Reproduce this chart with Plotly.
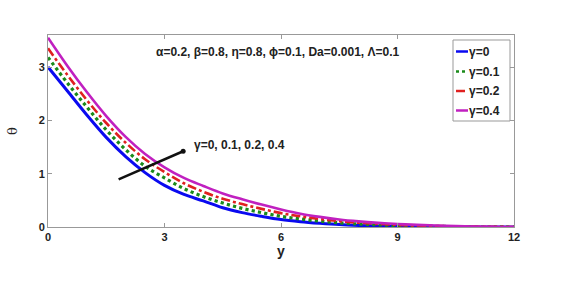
import plotly.graph_objects as go

y_vals = [0, 0.5, 1, 1.5, 2, 2.5, 3, 3.5, 4, 4.5, 5, 5.5, 6, 6.5, 7, 7.5, 8, 8.5, 9, 9.5, 10, 10.5, 11, 11.5, 12]
theta_g0 = [3.00, 2.55, 2.10, 1.68, 1.32, 1.02, 0.78, 0.61, 0.49, 0.36, 0.27, 0.20, 0.14, 0.10, 0.07, 0.045, 0.03, 0.02, 0.013, 0.008, 0.005, 0.003, 0.002, 0.001, 0.0]
theta_g01 = [3.18, 2.70, 2.25, 1.82, 1.45, 1.14, 0.92, 0.72, 0.57, 0.45, 0.35, 0.27, 0.20, 0.15, 0.11, 0.08, 0.055, 0.04, 0.027, 0.018, 0.012, 0.008, 0.005, 0.002, 0.0]
theta_g02 = [3.35, 2.85, 2.38, 1.95, 1.58, 1.27, 1.03, 0.82, 0.66, 0.53, 0.43, 0.34, 0.26, 0.20, 0.15, 0.11, 0.08, 0.058, 0.04, 0.028, 0.019, 0.012, 0.007, 0.003, 0.0]
theta_g04 = [3.55, 3.02, 2.53, 2.08, 1.69, 1.37, 1.12, 0.92, 0.77, 0.63, 0.52, 0.42, 0.33, 0.25, 0.19, 0.14, 0.105, 0.078, 0.057, 0.04, 0.028, 0.018, 0.01, 0.005, 0.0]

series_names = ["γ=0", "γ=0.1", "γ=0.2", "γ=0.4"]
series_vals = [theta_g0, theta_g01, theta_g02, theta_g04]
colors = ["#0a0af0", "#1a8a1a", "#e02020", "#c020c0"]
dashes = ["solid", "dot", "dashdot", "solid"]
widths = [3, 3.2, 2.6, 2.6]

x_ticks = [0, 3, 6, 9, 12]
y_ticks = [0, 1, 2, 3]

W, H = 569, 290
L, R, T, B = 48, 514, 35, 227

def px(x):
    return (x - L) / (R - L)

def py(y):
    return (B - y) / (B - T)

fig = go.Figure()
for name, vals, c, d, w in zip(series_names, series_vals, colors, dashes, widths):
    fig.add_trace(go.Scatter(x=y_vals, y=vals, mode="lines", name=name,
                             line=dict(color=c, dash=d, width=w, shape="spline"),
                             showlegend=False))

font_b = "Liberation Sans, Arial, sans-serif"

shapes = []
annotations = []
# legend box
shapes.append(dict(type="rect", xref="paper", yref="paper",
                   x0=px(453), x1=px(510), y0=py(121), y1=py(40),
                   line=dict(color="#999999", width=1), fillcolor="white", layer="above"))
leg_y = [51.5, 71.5, 91, 110.5]
for name, c, d, w, yy in zip(series_names, colors, dashes, widths, leg_y):
    shapes.append(dict(type="line", xref="paper", yref="paper",
                       x0=px(456), x1=px(468), y0=py(yy), y1=py(yy),
                       line=dict(color=c, dash=d, width=min(w, 2.5)), layer="above"))
    annotations.append(dict(xref="paper", yref="paper", x=px(467), y=py(yy),
                            text="<b>" + name + "</b>", showarrow=False,
                            xanchor="left", yanchor="middle",
                            font=dict(family=font_b, size=12, color="#222222")))

annotations.append(dict(xref="paper", yref="paper", x=px(278), y=py(52),
                        text="<b>α=0.2, β=0.8, η=0.8, ϕ=0.1, Da=0.001, Λ=0.1</b>",
                        showarrow=False, xanchor="center", yanchor="middle",
                        font=dict(family=font_b, size=12, color="#222222")))

annotations.append(dict(xref="x", yref="y", x=3.48, y=1.42, ax=1.78, ay=0.88,
                        axref="x", ayref="y", text="", showarrow=True,
                        arrowhead=6, arrowsize=0.5, arrowwidth=2.5, arrowcolor="#111111"))
annotations.append(dict(xref="x", yref="y", x=3.71, y=1.53,
                        text="<b>γ=0, 0.1, 0.2, 0.4</b>", showarrow=False,
                        xanchor="left", yanchor="middle",
                        font=dict(family=font_b, size=12, color="#222222")))
# x-axis title
annotations.append(dict(xref="paper", yref="paper", x=px(281), y=py(251),
                        text="<b>y</b>", showarrow=False,
                        xanchor="center", yanchor="middle",
                        font=dict(family=font_b, size=14, color="#222222")))

fig.update_layout(
    width=W, height=H,
    margin=dict(l=L, r=W - R, t=T, b=H - B, autoexpand=False),
    plot_bgcolor="white", paper_bgcolor="white",
    shapes=shapes, annotations=annotations,
    font=dict(family=font_b, size=10, color="#222222"),
)
fig.update_xaxes(range=[0, 12], tickvals=x_ticks, ticktext=["<b>%d</b>" % t for t in x_ticks],
                 showgrid=False, zeroline=False, showline=True, mirror="ticks",
                 linecolor="#999999", linewidth=1, ticks="inside", ticklen=4,
                 tickcolor="#999999", tickfont=dict(size=11, family=font_b), automargin=False)
fig.update_yaxes(range=[0, 3.6], tickvals=y_ticks, ticktext=["<b>%d</b>" % t for t in y_ticks],
                 showgrid=False, zeroline=False, showline=True, mirror="ticks",
                 linecolor="#999999", linewidth=1, ticks="inside", ticklen=4,
                 tickcolor="#999999", tickfont=dict(size=11, family=font_b), automargin=False,
                 title=dict(text="θ", font=dict(size=13, family="DejaVu Serif, serif"), standoff=18))

fig.write_html("out.html", config={"displayModeBar": False},
               post_script="document.body.style.margin='0';document.body.style.overflow='hidden';")
